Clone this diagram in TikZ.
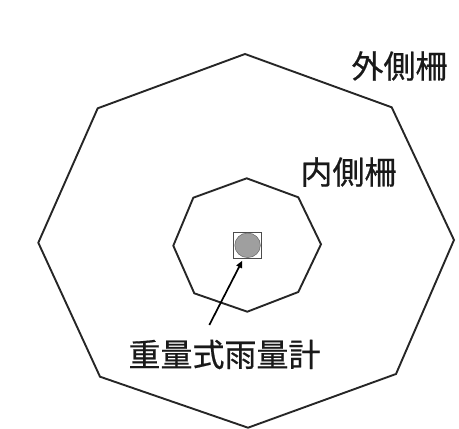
\documentclass[tikz,border=0pt]{standalone}
\usepackage{fontspec}
\newfontfamily\cjk[FakeBold=0.6]{Noto Sans CJK JP}
\usetikzlibrary{arrows.meta}
\begin{document}
\begin{tikzpicture}[x=1pt,y=-1pt,
  fence/.style={draw=black!85,line width=1.9pt,line join=miter},
  lbl/.style={font=\cjk\fontsize{32}{32}\selectfont,inner sep=0pt,text=black!90}]
\useasboundingbox (0,0) rectangle (459,429);
% outer fence
\draw[fence] (245,54) -- (391.7,107.3) -- (454,240) -- (396,374) -- (248,427.7) -- (100,376.7) -- (38.3,242.7) -- (97.7,108.3) -- cycle;
% inner fence
\draw[fence] (246.7,178.3) -- (298.3,197.3) -- (321,244.3) -- (298.3,292) -- (247.3,311.7) -- (194.3,293.3) -- (173.3,245.7) -- (193.3,197.7) -- cycle;
% gauge
\node[draw=black!70,line width=0.9pt,minimum width=28.5pt,minimum height=26pt,inner sep=0pt] (sq) at (247.6,245.3) {};
\fill[gray!75,draw=black!60,line width=0.5pt] (sq.center) ellipse [x radius=12.8pt,y radius=12.3pt];
% labels
\node[lbl] (outer) at (399.5,66) {外側柵};
\node[lbl] (inner) at (348.5,172) {内側柵};
\node[lbl] (gauge) at (224.5,354.5) {重量式雨量計};
\coordinate (tip) at (242.3,260.7);
\coordinate (tail) at (209.3,325);
\draw[line width=1.7pt,-{Triangle[length=7pt,width=6pt]}] (tail) -- (tip);
\end{tikzpicture}
\end{document}
